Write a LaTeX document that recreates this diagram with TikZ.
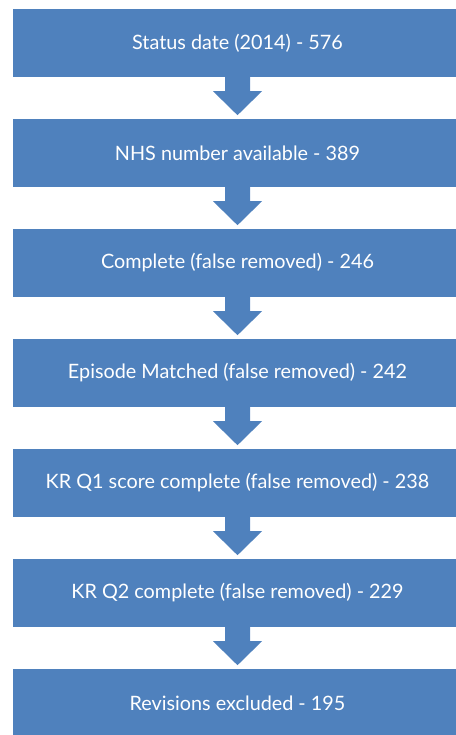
\documentclass[tikz,border=0pt]{standalone}
\usepackage{fontspec}
\setmainfont{Lato}
\definecolor{boxblue}{HTML}{4F81BD}
\begin{document}
\begin{tikzpicture}[x=1pt,y=-1pt,
  stepbox/.style={fill=boxblue, draw=none, minimum width=449pt, minimum height=68pt,
    inner sep=0pt, text=white, font=\fontsize{19.8}{23}\selectfont},
  downarrow/.style={fill=boxblue, draw=none}]
\useasboundingbox (0,0) rectangle (455,735);
\foreach \i/\t in {1/Status date (2014) - 576,
                   2/NHS number available - 389,
                   3/Complete (false removed) - 246,
                   4/Episode Matched (false removed) - 242,
                   5/KR Q1 score complete (false removed) - 238,
                   6/KR Q2 complete (false removed) - 229,
                   7/Revisions excluded - 195}{
  \node[stepbox] (b\i) at (237.5, {43+110*(\i-1)}) {\t};
}
\foreach \i in {1,...,6}{
  \path[downarrow] ([xshift=-12.5pt]b\i.south) -- ++(0,14) -- ++(-12,0)
     -- ++(24.5,24) -- ++(24.5,-24) -- ++(-12,0) -- ++(0,-14) -- cycle;
}
\end{tikzpicture}
\end{document}
